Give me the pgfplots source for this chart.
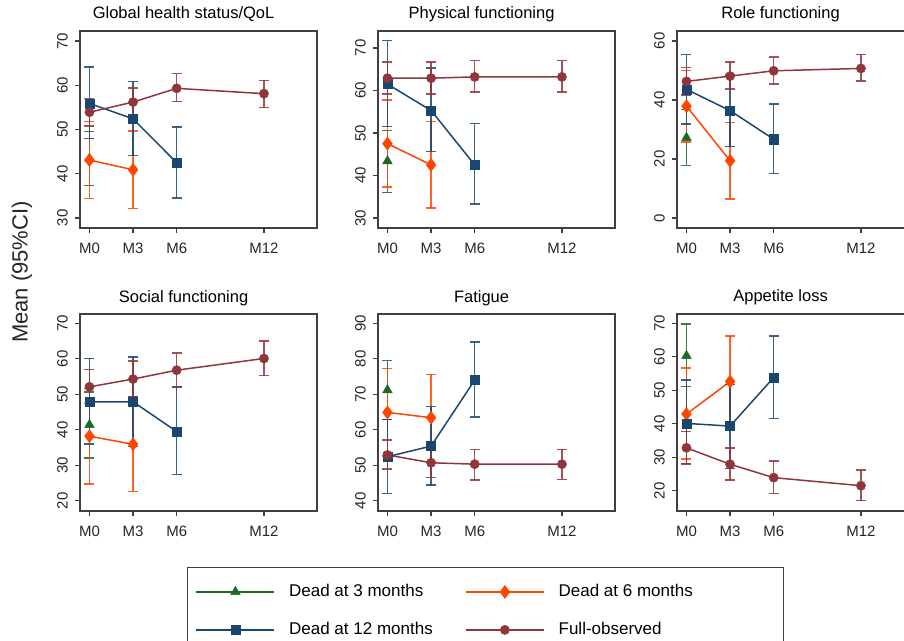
\documentclass[border=0pt]{standalone}
\usepackage{pgfplots}
\pgfplotsset{compat=1.18}
\usepackage{fontspec}
\setmainfont{Liberation Sans}
\definecolor{cthree}{RGB}{30,105,35}
\definecolor{csix}{RGB}{255,69,0}
\definecolor{ctwelve}{RGB}{26,71,111}
\definecolor{cfull}{RGB}{144,53,59}
\pgfplotsset{
  table/cit/.style={x=x,y=y,y error plus expr=\thisrow{hi}-\thisrow{y},y error minus expr=\thisrow{y}-\thisrow{lo}},
  ser/.style={color=#1, line width=1.5pt, mark options={solid,fill=#1,draw=#1,line width=0.5pt},
    /pgfplots/error bars/y dir=both, /pgfplots/error bars/y explicit,
    /pgfplots/error bars/error mark=-,
    /pgfplots/error bars/error bar style={line width=1.4pt, color=#1, draw opacity=0.85},
    /pgfplots/error bars/error mark options={rotate=90, line width=1.4pt, mark size=5pt, color=#1, draw opacity=0.85}},
  s3/.style={ser=cthree, mark=triangle*, mark size=5.5pt},
  s6/.style={ser=csix, mark=diamond*, mark size=6.5pt},
  s12/.style={ser=ctwelve, mark=square*, mark size=4.6pt},
  sfull/.style={ser=cfull, mark=*, mark size=4.6pt},
  panel/.style={
    scale only axis, width=237pt, height=197pt, anchor=south west,
    xmin=-0.65, xmax=15.65,
    xtick={0,3,6,12}, xticklabels={M0,M3,M6,M12},
    tick pos=left, tick align=outside, major tick length=5pt,
    minor tick num=0,
    axis line style={line width=1.3pt, color=black!75},
    every tick/.style={line width=1.3pt, color=black!75},
    tick label style={font=\fontsize{15}{17}\selectfont, color=black!85},
    /pgf/number format/assume math mode=true,
    yticklabel style={rotate=90, anchor=south, inner sep=7pt},
    xticklabel style={anchor=north, inner sep=3pt, yshift=-7pt},
    title style={font=\fontsize{16.5}{19}\selectfont, at={(axis description cs:0.437,1)}, anchor=base, yshift=6pt},
    clip=false,
  },
}
\begin{document}
\begin{tikzpicture}[x=1pt,y=1pt]
\useasboundingbox (0,0) rectangle (904,640);
% Row 1
\begin{axis}[panel, at={(80pt,412pt)}, ymin=27.74, ymax=72.26, ytick={30,40,50,60,70}, title={Global health status/QoL}]
\addplot[s3] table[cit] {
x y lo hi
0 43.4 37.3 49.6
};
\addplot[s6] table[cit] {
x y lo hi
0 43.1 34.4 51.8
3 40.9 32.1 49.7
};
\addplot[s12] table[cit] {
x y lo hi
0 55.9 48.0 64.1
3 52.4 44.1 60.8
6 42.5 34.5 50.6
};
\addplot[sfull] table[cit] {
x y lo hi
0 53.9 50.8 57.0
3 56.2 53.0 59.4
6 59.3 56.3 62.6
12 58.1 55.0 61.1
};
\end{axis}
\begin{axis}[panel, at={(378pt,412pt)}, ymin=27.65, ymax=74.0, ytick={30,40,50,60,70}, title={Physical functioning}]
\addplot[s3] table[cit] {
x y lo hi
0 43.4 36.0 50.6
};
\addplot[s6] table[cit] {
x y lo hi
0 47.5 37.3 57.8
3 42.5 32.4 52.7
};
\addplot[s12] table[cit] {
x y lo hi
0 61.5 51.5 71.7
3 55.3 45.7 65.3
6 42.5 33.3 52.2
};
\addplot[sfull] table[cit] {
x y lo hi
0 62.9 59.2 66.7
3 62.9 59.2 66.7
6 63.2 59.6 67.0
12 63.2 59.6 67.0
};
\end{axis}
\begin{axis}[panel, at={(677pt,412pt)}, ymin=-3.39, ymax=63.39, ytick={0,20,40,60}, title={Role functioning}]
\addplot[s3] table[cit] {
x y lo hi
0 27.2 17.8 36.8
};
\addplot[s6] table[cit] {
x y lo hi
0 37.9 25.7 50.1
3 19.4 6.5 32.3
};
\addplot[s12] table[cit] {
x y lo hi
0 43.6 31.9 55.4
3 36.4 24.2 48.5
6 26.7 15.0 38.6
};
\addplot[sfull] table[cit] {
x y lo hi
0 46.3 41.7 51.0
3 48.1 43.7 52.9
6 49.9 45.4 54.6
12 50.7 46.4 55.4
};
\end{axis}
% Row 2
\begin{axis}[panel, at={(80pt,129pt)}, ymin=17.10, ymax=72.64, ytick={20,30,40,50,60,70}, title={Social functioning},
  legend columns=2,
  legend style={at={(axis description cs:0.4515,-0.283)}, anchor=north west,
    draw=black!75, line width=1.3pt, inner xsep=0pt, inner ysep=17pt,
    font=\fontsize{17}{20}\selectfont, row sep=23pt,
    nodes={inner xsep=0pt, inner ysep=0pt, text height=12pt, text depth=3pt}},
  legend cell align=left,
  legend image code/.code={\path (0pt,0pt) (100pt,0pt); \draw[line width=1.5pt, mark repeat=2, mark phase=2] plot coordinates {(8pt,0pt)(47pt,0pt)(86pt,0pt)};}]
\addplot[s3] table[cit] {
x y lo hi
0 41.4 32.0 50.6
};
\addlegendentry{\makebox[168pt][l]{Dead at 3 months}}
\addplot[s6] table[cit] {
x y lo hi
0 38.2 24.7 51.7
3 35.9 22.6 49.3
};
\addlegendentry{\makebox[225pt][l]{Dead at 6 months}}
\addplot[s12] table[cit] {
x y lo hi
0 47.9 36.0 60.1
3 47.9 35.3 60.5
6 39.5 27.4 52.1
};
\addlegendentry{\makebox[168pt][l]{Dead at 12 months}}
\addplot[sfull] table[cit] {
x y lo hi
0 52.1 47.4 57.0
3 54.3 49.3 59.4
6 56.8 52.2 61.7
12 60.1 55.3 65.0
};
\addlegendentry{\makebox[225pt][l]{Full-observed}}
\end{axis}
\begin{axis}[panel, at={(378pt,129pt)}, ymin=37.10, ymax=92.64, ytick={40,50,60,70,80,90}, title={Fatigue}]
\addplot[s3] table[cit] {
x y lo hi
0 71.2 62.9 79.5
};
\addplot[s6] table[cit] {
x y lo hi
0 64.9 52.6 77.3
3 63.4 51.1 75.6
};
\addplot[s12] table[cit] {
x y lo hi
0 52.4 42.1 62.9
3 55.4 44.4 66.5
6 74.0 63.6 84.8
};
\addplot[sfull] table[cit] {
x y lo hi
0 52.9 48.9 57.1
3 50.7 46.5 54.9
6 50.3 45.8 54.5
12 50.3 46.0 54.5
};
\end{axis}
\begin{axis}[panel, at={(677pt,129pt)}, ymin=13.94, ymax=72.78, ytick={20,30,40,50,60,70}, title={Appetite loss}]
\addplot[s3] table[cit] {
x y lo hi
0 60.3 51.1 69.8
};
\addplot[s6] table[cit] {
x y lo hi
0 42.9 29.5 56.6
3 52.6 38.9 66.2
};
\addplot[s12] table[cit] {
x y lo hi
0 40.1 28.2 53.1
3 39.3 26.7 51.8
6 53.8 41.5 66.2
};
\addplot[sfull] table[cit] {
x y lo hi
0 32.8 28.0 37.6
3 27.9 23.2 32.7
6 23.9 19.1 28.9
12 21.5 17.0 26.2
};
\end{axis}
\node[rotate=90, font=\fontsize{22}{26}\selectfont, color=black!85] at (22,368) {Mean (95\%CI)};
\end{tikzpicture}
\end{document}
